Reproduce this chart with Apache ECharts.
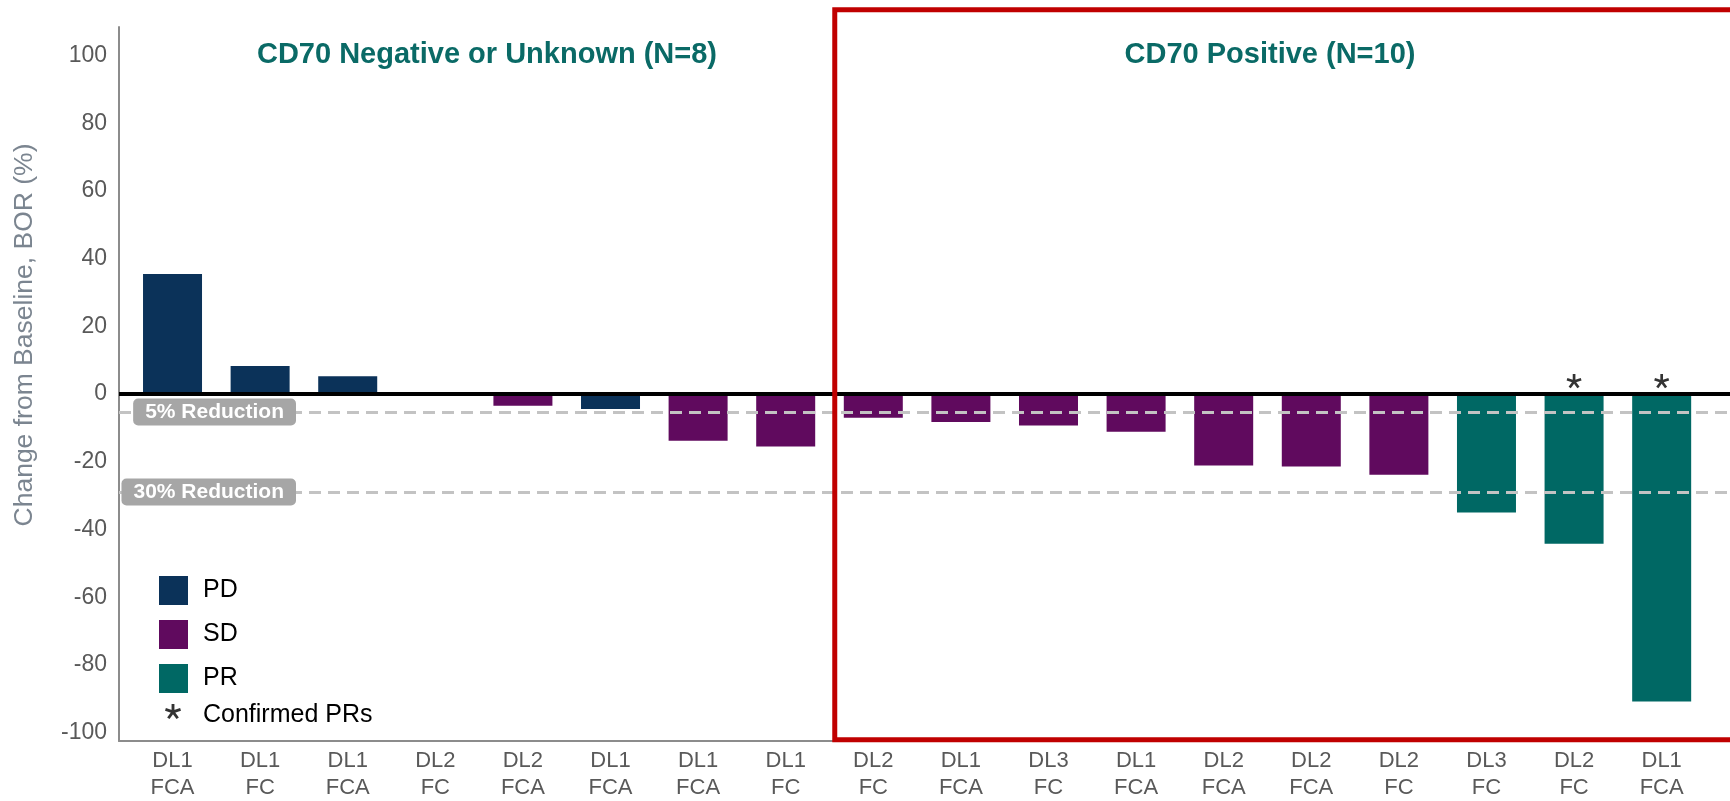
<!DOCTYPE html>
<html lang="en">
<head>
<meta charset="UTF-8">
<title>CD70 waterfall</title>
<style>
    html, body { margin: 0; padding: 0; background: #fff; }
    #main { width: 1730px; height: 801px; }
</style>
</head>
<body>
<div id="main"></div>
<script src="https://cdn.jsdelivr.net/npm/echarts@6/dist/echarts.min.js"></script>
<script>
    // one entry per patient, left to right
    var doseLevels = ['DL1', 'DL1', 'DL1', 'DL2', 'DL2', 'DL1', 'DL1', 'DL1', 'DL2', 'DL1', 'DL3', 'DL1', 'DL2', 'DL2', 'DL2', 'DL3', 'DL2', 'DL1'];
    var regimens = ['FCA', 'FC', 'FCA', 'FC', 'FCA', 'FCA', 'FCA', 'FC', 'FC', 'FCA', 'FC', 'FCA', 'FCA', 'FCA', 'FC', 'FC', 'FC', 'FCA'];
    var changes = [35.5, 8.3, 5.3, 0, -3.4, -4.4, -13.8, -15.5, -7.0, -8.2, -9.3, -11.1, -21.1, -21.4, -23.8, -35.0, -44.2, -90.8];
    var responses = ['PD', 'PD', 'PD', 'SD', 'SD', 'PD', 'SD', 'SD', 'SD', 'SD', 'SD', 'SD', 'SD', 'SD', 'SD', 'PR', 'PR', 'PR'];
    var confirmedIdx = [16, 17];

    var groupTitles = ['CD70 Negative or Unknown (N=8)', 'CD70 Positive (N=10)'];
    var yTicks = [-100, -80, -60, -40, -20, 0, 20, 40, 60, 80, 100];
    var refValues = [-5.3, -28.9];
    var refLabels = ['5% Reduction', '30% Reduction'];

    // CD70 positive frame, in axis units
    var frameLeft = 7.56, frameRight = 18.6, frameTop = 113.6, frameBottom = -102.1;

    var colors = {PD: '#0B3259', SD: '#600A5E', PR: '#006864'};
    var FONT = '"Liberation Sans", Arial, sans-serif';

    function asteriskPath() {
        var parts = [];
        for (var k = 0; k < 5; k++) {
            var a = (90 - 72 * k) * Math.PI / 180;
            var dx = Math.cos(a), dy = -Math.sin(a);
            var nx = -dy, ny = dx;
            var w = 9, L = 50, c = 50;
            var p = [
                [c + nx * w, c + ny * w],
                [c + nx * w + dx * L, c + ny * w + dy * L],
                [c - nx * w + dx * L, c - ny * w + dy * L],
                [c - nx * w, c - ny * w]
            ];
            parts.push('M' + p.map(function (q) { return q[0].toFixed(2) + ' ' + q[1].toFixed(2); }).join('L') + 'Z');
        }
        return 'path://' + parts.join('');
    }
    var starPath = asteriskPath();

    var myChart = echarts.init(document.getElementById('main'));

    var series = ['PD', 'SD', 'PR'].map(function (s) {
        var data = [];
        for (var i = 0; i < changes.length; i++) {
            if (responses[i] === s) data.push([i, changes[i]]);
        }
        return {
            name: s,
            type: 'bar',
            barWidth: 59,
            barGap: '-100%',
            itemStyle: {color: colors[s]},
            data: data
        };
    });

    var lineData = [{
        yAxis: 0,
        lineStyle: {color: '#000', width: 4, type: 'solid'},
        label: {show: false}
    }];
    refValues.forEach(function (v, i) {
        lineData.push({
            yAxis: v,
            lineStyle: {color: '#C3C3C3', width: 3, type: [12, 7]},
            label: {
                show: true,
                position: 'start',
                distance: [-177, 0],
                formatter: refLabels[i],
                color: '#fff',
                fontWeight: 'bold',
                fontSize: 21,
                fontFamily: FONT,
                backgroundColor: '#A6A6A6',
                borderRadius: 5,
                padding: [3, 12]
            }
        });
    });

    series.push({
        name: 'Confirmed PRs',
        type: 'scatter',
        symbol: starPath,
        symbolSize: 15,
        symbolKeepAspect: true,
        symbolOffset: [0, -13],
        itemStyle: {color: '#000'},
        z: 6,
        data: confirmedIdx.map(function (i) { return [i, 0]; }),
        markLine: {
            silent: true,
            symbol: 'none',
            animation: false,
            data: lineData
        }
    });

    var option = {
        animation: false,
        textStyle: {fontFamily: FONT},
        title: groupTitles.map(function (t, i) {
            return {
                text: t,
                left: [487, 1270][i],
                top: 55,
                textAlign: 'center',
                textVerticalAlign: 'middle',
                padding: 0,
                textStyle: {color: '#0A6A66', fontSize: 29, fontWeight: 'bold', fontFamily: FONT}
            };
        }),
        legend: [{
            data: ['PD', 'SD', 'PR'],
            orient: 'vertical',
            left: 159,
            top: 576,
            padding: 0,
            icon: 'rect',
            itemWidth: 29,
            itemHeight: 29,
            itemGap: 15,
            selectedMode: false,
            textStyle: {color: '#000', fontSize: 25, fontFamily: FONT, padding: [0, 0, 0, 10]}
        }, {
            data: ['Confirmed PRs'],
            left: 165,
            top: 703,
            padding: 0,
            itemWidth: 16,
            itemHeight: 16,
            selectedMode: false,
            formatter: '{p|{name}}',
            textStyle: {
                color: '#000', fontSize: 25, fontFamily: FONT,
                rich: {p: {color: '#000', fontSize: 25, fontFamily: FONT, padding: [8, 0, 0, 17]}}
            }
        }],
        grid: {left: 119, right: 0, top: 27, bottom: 60, containLabel: false},
        xAxis: {
            type: 'value',
            min: -0.611,
            max: 17.78,
            splitLine: {show: false},
            axisTick: {show: false},
            axisLine: {onZero: false, lineStyle: {color: '#8C8C8C', width: 2}},
            axisLabel: {
                customValues: doseLevels.map(function (d, i) { return i; }),
                formatter: function (v) { return doseLevels[v] + '\n' + regimens[v]; },
                color: '#595959',
                fontSize: 22,
                lineHeight: 27,
                margin: 6,
                fontFamily: FONT
            }
        },
        yAxis: {
            type: 'value',
            min: -102.5,
            max: 108.5,
            splitLine: {show: false},
            axisTick: {show: false},
            axisLine: {show: true, onZero: false, lineStyle: {color: '#8C8C8C', width: 2}},
            axisLabel: {
                customValues: yTicks,
                color: '#595959',
                fontSize: 23,
                margin: 12,
                fontFamily: FONT
            }
        },
        series: series
    };

    myChart.setOption(option);

    // frame around the CD70 positive group and the rotated axis title
    var p0 = myChart.convertToPixel({gridIndex: 0}, [frameLeft, frameTop]);
    var p1 = myChart.convertToPixel({gridIndex: 0}, [frameRight, frameBottom]);
    myChart.setOption({
        graphic: [{
            type: 'rect',
            z: 100,
            silent: true,
            shape: {x: p0[0], y: p0[1], width: p1[0] - p0[0], height: p1[1] - p0[1]},
            style: {fill: 'none', stroke: '#C00000', lineWidth: 5}
        }, {
            type: 'text',
            x: 25,
            y: 335,
            rotation: Math.PI / 2,
            silent: true,
            style: {
                text: 'Change from Baseline, BOR (%)',
                fontSize: 26.5,
                fontFamily: FONT,
                fill: '#7B8590',
                align: 'center',
                verticalAlign: 'middle'
            }
        }]
    });
</script>
</body>
</html>
